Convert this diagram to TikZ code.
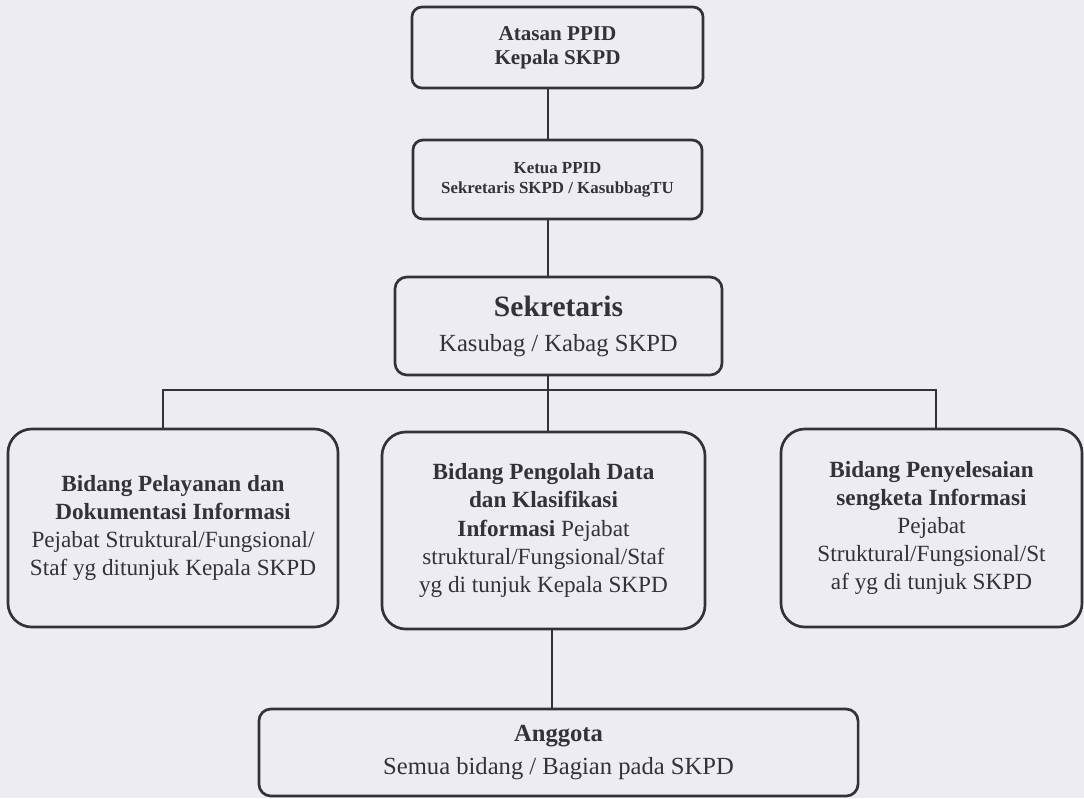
\documentclass[tikz,border=0pt]{standalone}
\usepackage{fontspec}
\setmainfont{Liberation Serif}
\definecolor{paper}{RGB}{237,236,243}
\definecolor{ink}{RGB}{50,50,55}

\begin{document}
\begin{tikzpicture}[x=0.025cm,y=-0.025cm,
    box/.style={draw=ink,line width=1.9pt,rounded corners=0.6cm,align=center,text=ink,inner sep=0pt,
      font=\fontsize{16.5}{20}\selectfont},
    link/.style={draw=ink,line width=1.4pt},
    thinlink/.style={draw=ink,line width=0.9pt}]
  \fill[paper] (0,0) rectangle (1084,798);
  \node[box,rounded corners=0.25cm,minimum width=7.275cm,minimum height=2.025cm,
    font=\bfseries\fontsize{15}{17}\selectfont] (atasan) at (557.5,47.5) {Atasan PPID\\Kepala SKPD};
  \node[box,rounded corners=0.25cm,minimum width=7.225cm,minimum height=1.975cm,
    font=\bfseries\fontsize{12}{14}\selectfont] (ketua) at (557.5,179.5) {Ketua PPID\\Sekretaris SKPD / KasubbagTU};
  \node[box,rounded corners=0.3cm,minimum width=8.175cm,minimum height=2.45cm,
    font=\fontsize{17.5}{25}\selectfont] (sekretaris) at (558.5,326)
    {{\bfseries\fontsize{21}{25}\selectfont Sekretaris}\\Kasubag / Kabag SKPD};
  \node[box,minimum width=8.25cm,minimum height=4.95cm] (pelayanan) at (173,528)
    {\textbf{Bidang Pelayanan dan}\\\textbf{Dokumentasi Informasi}\\Pejabat Struktural/Fungsional/\\Staf yg ditunjuk Kepala SKPD};
  \node[box,minimum width=8.075cm,minimum height=4.925cm] (pengolah) at (543.5,530.5)
    {\textbf{Bidang Pengolah Data}\\\textbf{dan Klasifikasi}\\\textbf{Informasi} Pejabat\\struktural/Fungsional/Staf\\yg di tunjuk Kepala SKPD};
  \node[box,minimum width=7.525cm,minimum height=4.95cm] (sengketa) at (931.5,528)
    {\textbf{Bidang Penyelesaian}\\\textbf{sengketa Informasi}\\Pejabat\\Struktural/Fungsional/St\\af yg di tunjuk SKPD};
  \node[box,rounded corners=0.3cm,minimum width=14.975cm,minimum height=2.175cm,
    font=\fontsize{17.5}{23}\selectfont] (anggota) at (558.5,752.5)
    {\textbf{Anggota}\\Semua bidang / Bagian pada SKPD};

  \coordinate (spine) at (548,390);
  \draw[link] (atasan.south -| spine) -- (ketua.north -| spine);
  \draw[link] (ketua.south -| spine) -- (sekretaris.north -| spine);
  \draw[link] (sekretaris.south -| spine) -- (pengolah.north -| spine);
  \draw[thinlink] ([xshift=-0.25cm]pelayanan.north) |- (spine) -| ([xshift=0.11cm]sengketa.north);
  \draw[link] ([xshift=0.21cm]pengolah.south) -- ([xshift=0.21cm]pengolah.south |- anggota.north);
\end{tikzpicture}
\end{document}
